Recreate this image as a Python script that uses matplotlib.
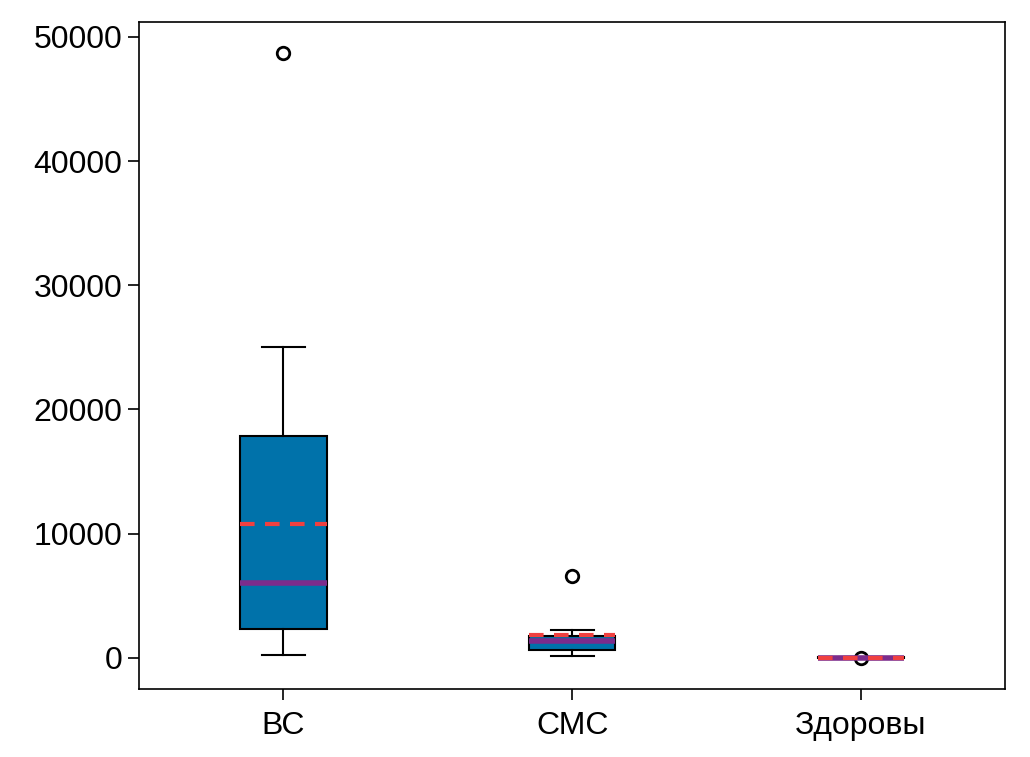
import matplotlib

matplotlib.use("Agg")

import matplotlib.pyplot as plt

# box statistics
groups = ["ВС", "СМС", "Здоровы"]
q1 = [2350, 600, 10]
median = [6000, 1370, 20]
q3 = [17900, 1780, 30]
mean = [10750, 1800, 25]
whisker_low = [200, 150, 5]
whisker_high = [25000, 2200, 40]
outliers = [[48700], [6600], [20]]

BOX_COLOR = "#0072AA"
MEAN_COLOR = "#F04040"
MEDIAN_COLOR = "#7B2C8C"

plt.rcParams["font.family"] = ["Liberation Sans", "DejaVu Sans"]

stats = []
for i, name in enumerate(groups):
    stats.append(
        {
            "label": name,
            "q1": q1[i],
            "med": median[i],
            "q3": q3[i],
            "mean": mean[i],
            "whislo": whisker_low[i],
            "whishi": whisker_high[i],
            "fliers": outliers[i],
        }
    )

fig = plt.figure(figsize=(10.3, 7.57), dpi=100)
ax = fig.add_axes([0.135, 0.09, 0.841, 0.881])

ax.bxp(
    stats,
    positions=[1, 2, 3],
    widths=0.3,
    patch_artist=True,
    showmeans=True,
    meanline=True,
    boxprops={"facecolor": BOX_COLOR, "edgecolor": "black", "linewidth": 1.5},
    whiskerprops={"color": "black", "linewidth": 1.5},
    capprops={"color": "black", "linewidth": 1.5},
    medianprops={"color": MEDIAN_COLOR, "linewidth": 4},
    meanprops={"color": MEAN_COLOR, "linewidth": 3, "linestyle": (0, (3.5, 2.5))},
    flierprops={"marker": "o", "markerfacecolor": "none", "markeredgecolor": "black",
                "markersize": 9, "markeredgewidth": 2},
)

ax.set_xlim(0.5, 3.5)
ax.set_ylim(-2500, 51200)
ax.set_yticks([0, 10000, 20000, 30000, 40000, 50000])
ax.tick_params(labelsize=23, length=8, width=1.2)
ax.tick_params(axis="y", pad=4)
ax.tick_params(axis="x", pad=8)
for spine in ax.spines.values():
    spine.set_linewidth(1.2)

fig.savefig("out.png", dpi=100)
